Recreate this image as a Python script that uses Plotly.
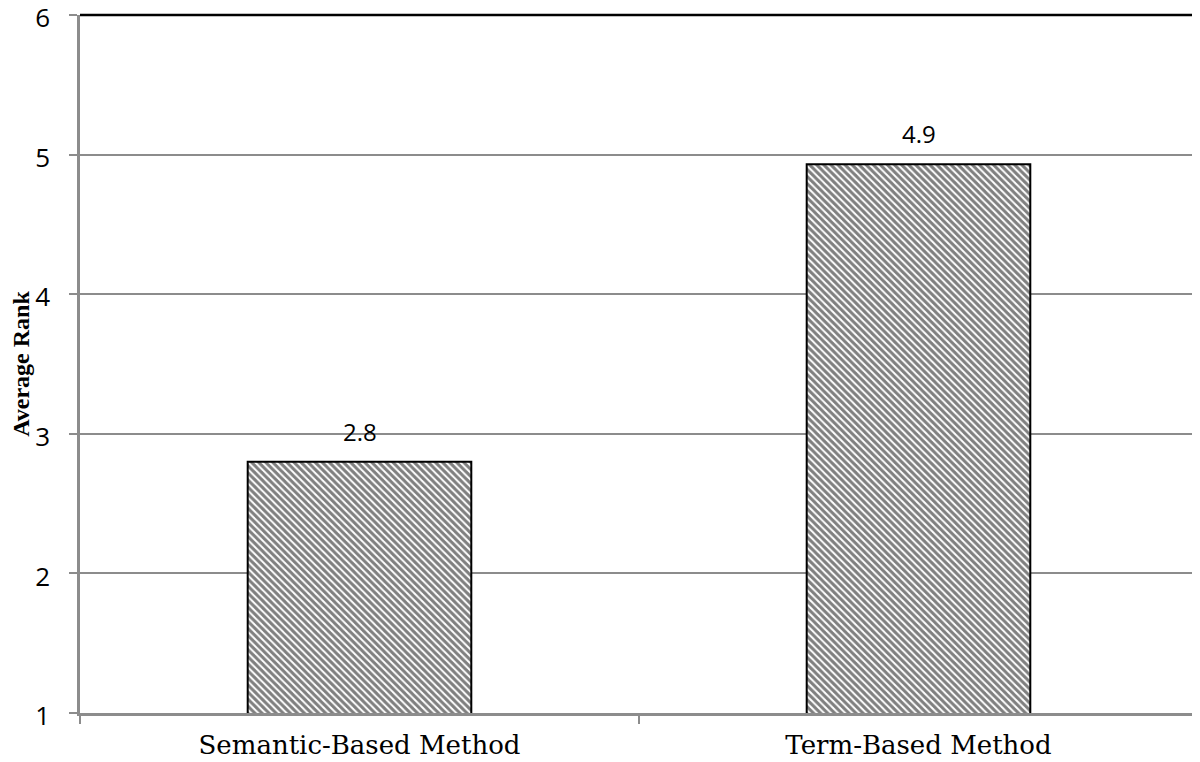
import plotly.graph_objects as go

methods = ['Semantic-Based Method', 'Term-Based Method']
avg_rank = [2.8, 4.93]
labels = ['2.8', '4.9']

fig = go.Figure()

fig.add_trace(go.Bar(
    x=methods, y=avg_rank,
    width=0.4,
    marker=dict(
        color='white',
        line=dict(color='black', width=2),
        pattern=dict(shape='\\', fgcolor='black', bgcolor='white', size=5, solidity=0.6),
    ),
    hoverinfo='skip',
))

for m, v, t in zip(methods, avg_rank, labels):
    fig.add_annotation(x=m, y=v, text=t, showarrow=False,
                       yanchor='bottom', yshift=12,
                       font=dict(family='Open Sans, sans-serif', size=24, color='black'))

# black frame on top and right of plot area
fig.add_shape(type='line', xref='paper', yref='paper', x0=0, x1=1, y0=1, y1=1,
              line=dict(color='black', width=2.5))
fig.add_shape(type='line', xref='paper', yref='paper', x0=1, x1=1, y0=0, y1=1,
              line=dict(color='black', width=2.5))

# page body has an 8px margin, so the figure is a bit smaller than the window
fig.update_layout(
    width=1192, height=754,
    margin=dict(l=72, r=2, t=7, b=49),
    paper_bgcolor='white', plot_bgcolor='white',
    showlegend=False,
    xaxis=dict(
        range=[-0.5, 1.5],
        automargin=False,
        tickson='boundaries',
        ticks='outside', ticklen=8, tickcolor='#8c8c8c', tickwidth=2,
        showline=True, linecolor='#8c8c8c', linewidth=2.5,
        showgrid=False,
        ticklabelstandoff=7,
        tickfont=dict(family='DejaVu Serif, serif', size=26, color='black'),
    ),
    yaxis=dict(
        range=[1, 6],
        automargin=False,
        tickvals=[1, 2, 3, 4, 5, 6],
        ticks='outside', ticklen=8, tickcolor='#8c8c8c', tickwidth=2,
        showline=True, linecolor='#8c8c8c', linewidth=2.5,
        showgrid=True, gridcolor='#8c8c8c', gridwidth=2,
        zeroline=False,
        ticklabelstandoff=14,
        ticklabeloverflow='allow',
        ticklabelshift=3,
        tickfont=dict(family='Open Sans, sans-serif', size=26, color='black'),
        title=dict(text='<b>Average Rank</b>', standoff=4,
                   font=dict(family='Liberation Serif, serif', size=24, color='black')),
    ),
)

fig.write_html('out.html')
